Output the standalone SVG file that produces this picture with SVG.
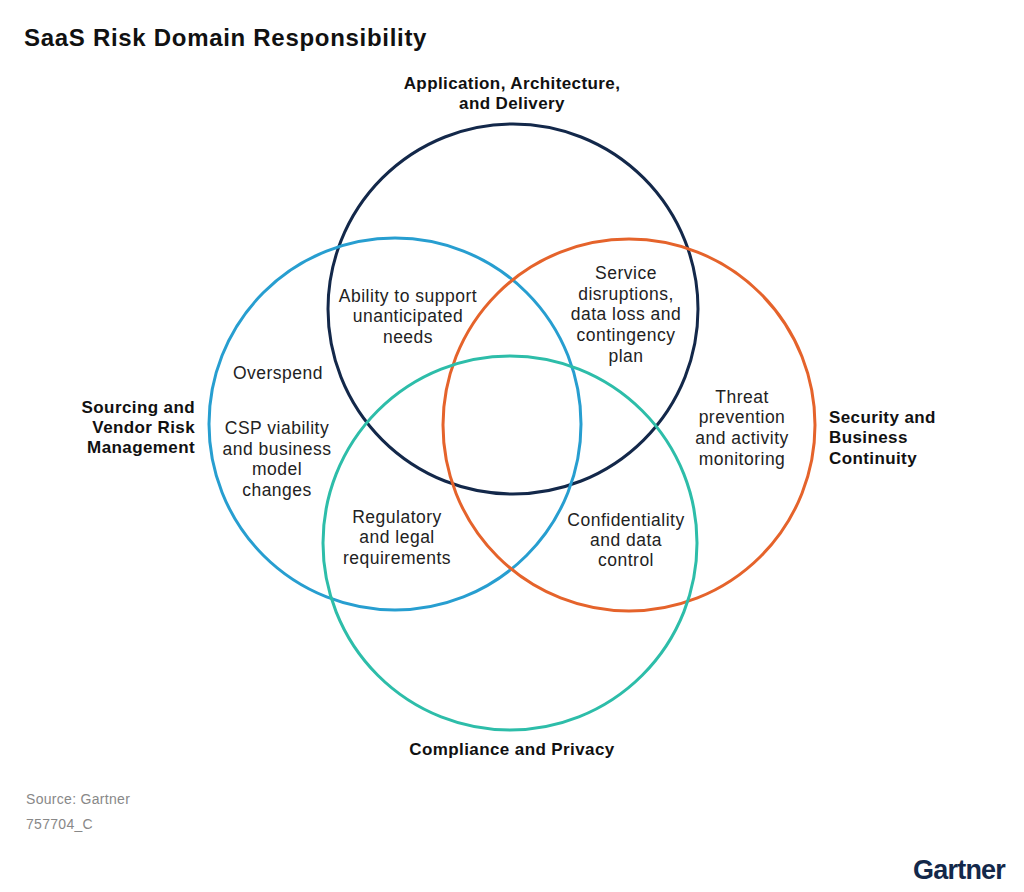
<svg xmlns="http://www.w3.org/2000/svg" width="1024" height="892" viewBox="0 0 1024 892">
<style>
.c{fill:none;stroke-width:3}
.t{font-family:"Liberation Sans",Arial,sans-serif;font-size:17.5px;letter-spacing:0.5px;fill:#222;text-anchor:middle}
.h{font-family:"Liberation Sans",Arial,sans-serif;font-size:17px;letter-spacing:0.4px;font-weight:bold;fill:#111}
.s{font-family:"Liberation Sans",Arial,sans-serif;font-size:14px;letter-spacing:0.3px;fill:#888}
</style>
<rect width="1024" height="892" fill="#fff"/>
<text x="24" y="46" font-family="Liberation Sans,Arial,sans-serif" font-size="24" letter-spacing="0.7" font-weight="bold" fill="#111">SaaS Risk Domain Responsibility</text>
<g id="circles">
<circle id="c-app" class="c" cx="513" cy="309" r="185" stroke="#13284a"/>
<circle id="c-src" class="c" cx="395" cy="424" r="186" stroke="#279ed0"/>
<circle id="c-sec" class="c" cx="629" cy="425" r="186" stroke="#e5632b"/>
<circle id="c-cmp" class="c" cx="510" cy="543" r="187" stroke="#2dbda9"/>
</g>
<g id="labels">
<text class="h" text-anchor="middle"><tspan x="512" y="89">Application, Architecture,</tspan><tspan x="512" y="109">and Delivery</tspan></text>
<text class="h" text-anchor="end"><tspan x="195" y="413">Sourcing and</tspan><tspan x="195" y="433">Vendor Risk</tspan><tspan x="195" y="453">Management</tspan></text>
<text class="h" text-anchor="start"><tspan x="829" y="423">Security and</tspan><tspan x="829" y="443">Business</tspan><tspan x="829" y="464">Continuity</tspan></text>
<text class="h" text-anchor="middle" x="512" y="755">Compliance and Privacy</text>
</g>
<g id="regions">
<text class="t"><tspan x="408" y="302">Ability to support</tspan><tspan x="408" y="322">unanticipated</tspan><tspan x="408" y="343">needs</tspan></text>
<text class="t" x="278" y="379">Overspend</text>
<text class="t"><tspan x="277" y="434">CSP viability</tspan><tspan x="277" y="455">and business</tspan><tspan x="277" y="475">model</tspan><tspan x="277" y="496">changes</tspan></text>
<text class="t"><tspan x="626" y="279">Service</tspan><tspan x="626" y="300">disruptions,</tspan><tspan x="626" y="320">data loss and</tspan><tspan x="626" y="341">contingency</tspan><tspan x="626" y="362">plan</tspan></text>
<text class="t"><tspan x="742" y="403">Threat</tspan><tspan x="742" y="423">prevention</tspan><tspan x="742" y="444">and activity</tspan><tspan x="742" y="465">monitoring</tspan></text>
<text class="t"><tspan x="397" y="523">Regulatory</tspan><tspan x="397" y="543">and legal</tspan><tspan x="397" y="564">requirements</tspan></text>
<text class="t"><tspan x="626" y="526">Confidentiality</tspan><tspan x="626" y="546">and data</tspan><tspan x="626" y="566">control</tspan></text>
</g>
<text class="s" x="26" y="804">Source: Gartner</text>
<text class="s" x="26" y="829">757704_C</text>
<text x="1005" y="879" text-anchor="end" font-family="Liberation Sans,Arial,sans-serif" font-size="27" font-weight="bold" fill="#13284a" letter-spacing="-0.8">Gartner</text>
</svg>
